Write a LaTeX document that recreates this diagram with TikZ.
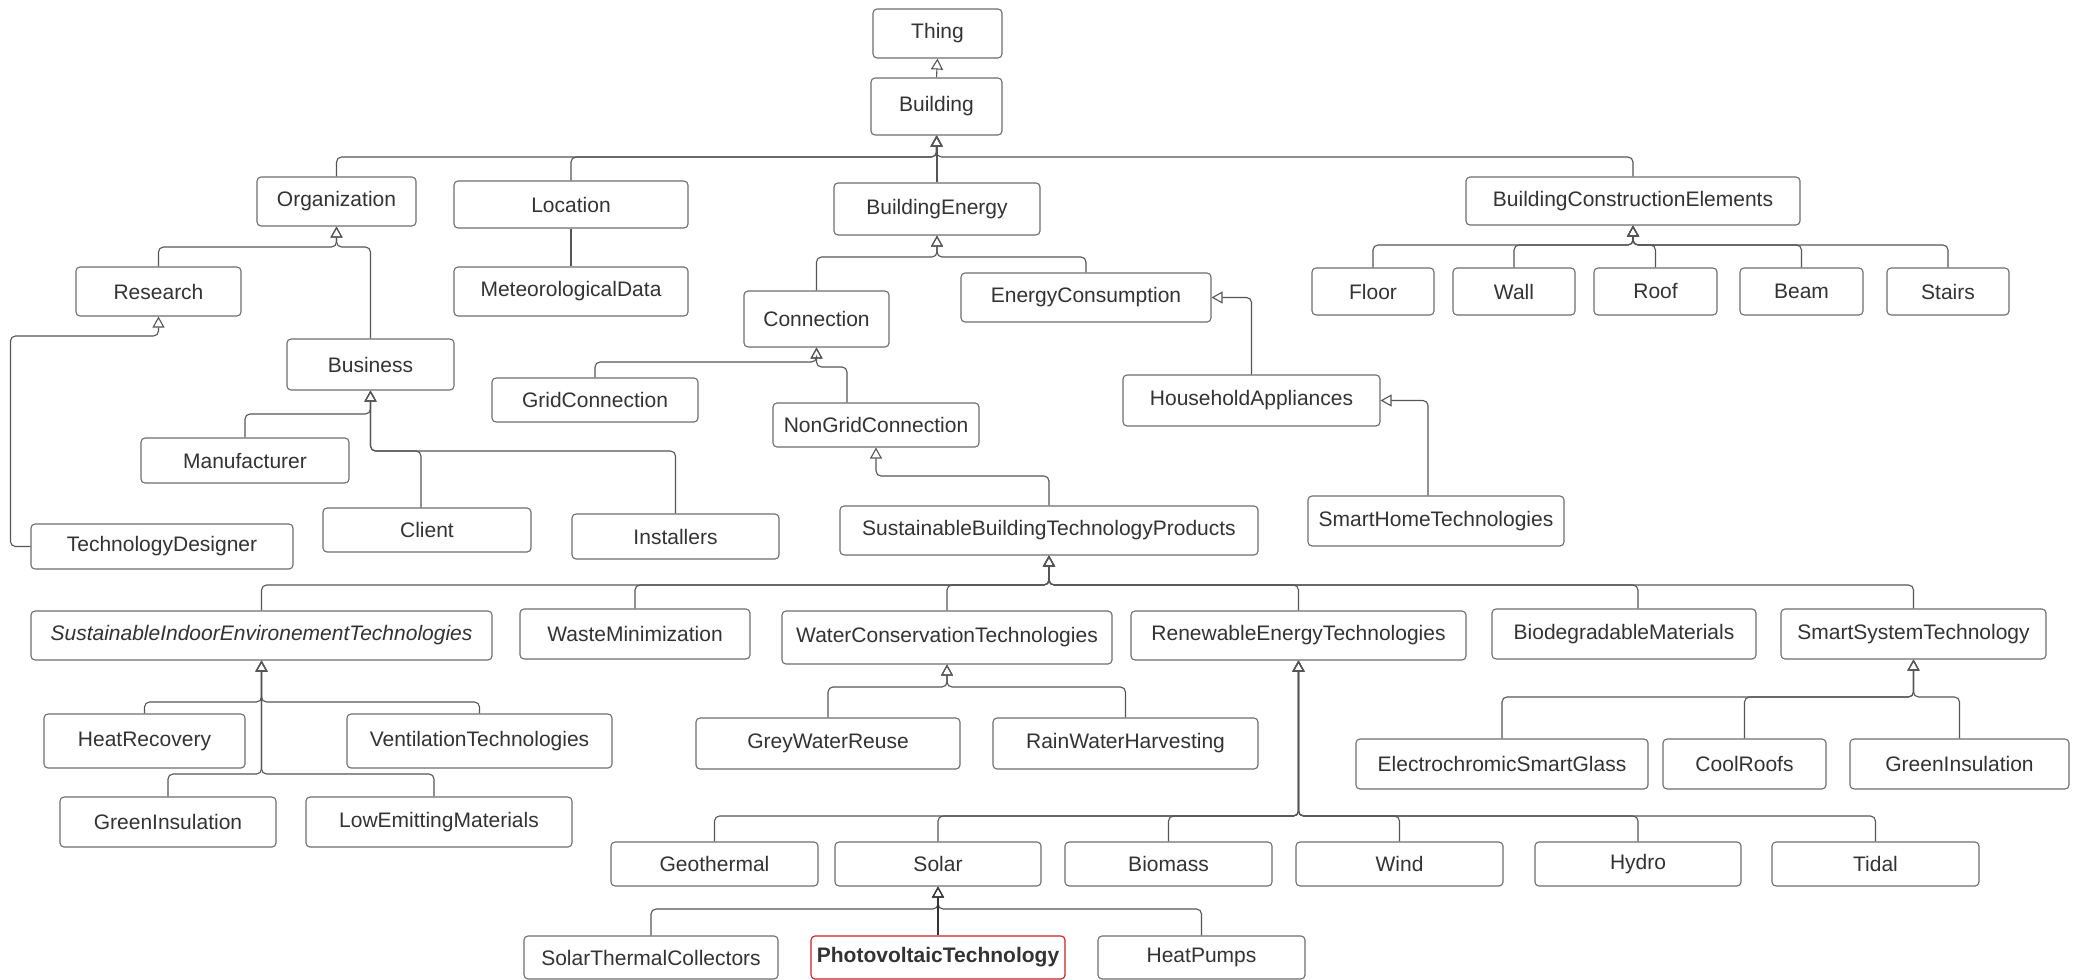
\documentclass[tikz,border=0pt]{standalone}
\usepackage{fontspec}
\setmainfont{Liberation Sans}
\usetikzlibrary{arrows.meta}
\definecolor{txt}{HTML}{333333}
\definecolor{edge}{HTML}{555555}
\definecolor{bord}{HTML}{6E6E6E}
\definecolor{pvred}{HTML}{C8202A}
\newcommand\mkbox[7][]{%
  \pgfmathsetmacro\bxcx{(#3+#4)/2}%
  \pgfmathsetmacro\bxcy{(#5+#6)/2}%
  \pgfmathsetmacro\bxw{#4-#3}%
  \pgfmathsetmacro\bxh{#6-#5}%
  \node[box,minimum width=\bxw pt,minimum height=\bxh pt,#1] (#2) at (\bxcx,\bxcy) {#7};}
\begin{document}
\begin{tikzpicture}[x=1pt,y=-1pt,
  box/.style={draw=bord, line width=1.1pt, rounded corners=4pt, inner sep=0pt, text=txt, font=\fontsize{21}{25}\selectfont},
  gen/.style={draw=edge, line width=1.1pt, rounded corners=5pt, -{Triangle[open,length=11pt,width=12pt,line width=1.1pt]}},
  plain/.style={draw=edge, line width=1.1pt},
  pvline/.style={draw=txt, line width=2.6pt, -{Triangle[open,length=11pt,width=12pt,line width=1.1pt]}},
]
\fill[white] (0,0) rectangle (2081,980);
\useasboundingbox (0,0) rectangle (2081,980);

% nodes: name, x1, x2, y1, y2, text
\mkbox{thing}{873}{1002}{9}{58}{Thing}
\mkbox{building}{871}{1002}{78}{135}{Building}
\mkbox{org}{257}{416}{177}{226}{Organization}
\mkbox{location}{454}{688}{181}{228}{Location}
\mkbox{be}{834}{1040}{183}{235}{BuildingEnergy}
\mkbox{bce}{1466}{1800}{177}{225}{BuildingConstructionElements}
\mkbox{research}{76}{241}{267}{316}{Research}
\mkbox{meteo}{454}{688}{267}{316}{MeteorologicalData}
\mkbox{conn}{744}{889}{291}{347}{Connection}
\mkbox{ec}{961}{1211}{273}{322}{EnergyConsumption}
\mkbox{floor}{1312}{1434}{268}{315}{Floor}
\mkbox{wall}{1453}{1575}{268}{315}{Wall}
\mkbox{roof}{1594}{1717}{268}{315}{Roof}
\mkbox{beam}{1740}{1863}{268}{315}{Beam}
\mkbox{stairs}{1887}{2009}{268}{315}{Stairs}
\mkbox{business}{287}{454}{339}{390}{Business}
\mkbox{grid}{492}{698}{378}{422}{GridConnection}
\mkbox{nongrid}{773}{979}{403}{447}{NonGridConnection}
\mkbox{ha}{1123}{1380}{375}{426}{HouseholdAppliances}
\mkbox{manu}{141}{349}{438}{483}{Manufacturer}
\mkbox{client}{323}{531}{508}{552}{Client}
\mkbox{inst}{572}{779}{514}{559}{Installers}
\mkbox{td}{31}{293}{524}{569}{TechnologyDesigner}
\mkbox{sbtp}{840}{1258}{506}{555}{SustainableBuildingTechnologyProducts}
\mkbox{sh}{1308}{1564}{496}{546}{SmartHomeTechnologies}
\mkbox[font=\fontsize{21}{25}\selectfont\itshape]{siet}{31}{492}{611}{660}{SustainableIndoorEnvironementTechnologies}
\mkbox{waste}{520}{750}{609}{659}{WasteMinimization}
\mkbox{wct}{782}{1112}{611}{664}{WaterConservationTechnologies}
\mkbox{ret}{1131}{1466}{611}{660}{RenewableEnergyTechnologies}
\mkbox{biodeg}{1492}{1756}{609}{659}{BiodegradableMaterials}
\mkbox{sst}{1781}{2046}{609}{659}{SmartSystemTechnology}
\mkbox{hr}{44}{245}{714}{768}{HeatRecovery}
\mkbox{vent}{347}{612}{714}{768}{VentilationTechnologies}
\mkbox{grey}{696}{960}{718}{769}{GreyWaterReuse}
\mkbox{rain}{993}{1258}{718}{769}{RainWaterHarvesting}
\mkbox{electro}{1356}{1648}{739}{789}{ElectrochromicSmartGlass}
\mkbox{cool}{1663}{1826}{739}{789}{CoolRoofs}
\mkbox{gib}{1850}{2069}{739}{789}{GreenInsulation}
\mkbox{gia}{60}{276}{797}{847}{GreenInsulation}
\mkbox{lem}{306}{572}{797}{847}{LowEmittingMaterials}
\mkbox{geo}{611}{818}{842}{886}{Geothermal}
\mkbox{solar}{835}{1041}{842}{886}{Solar}
\mkbox{biomass}{1065}{1272}{842}{886}{Biomass}
\mkbox{wind}{1296}{1503}{842}{886}{Wind}
\mkbox{hydro}{1535}{1741}{842}{886}{Hydro}
\mkbox{tidal}{1772}{1979}{842}{886}{Tidal}
\mkbox{stc}{524}{778}{936}{979}{SolarThermalCollectors}
\mkbox[draw=pvred,font=\fontsize{21}{25}\selectfont\bfseries]{pv}{811}{1065}{936}{979}{PhotovoltaicTechnology}
\mkbox{hp}{1098}{1305}{936}{979}{HeatPumps}

% edges
\draw[gen] (building.north) -- (thing.south);
\draw[gen] (org.north) |- (0,157 -| building.south) -- (building.south);
\draw[gen] (location.north) |- (0,157 -| building.south) -- (building.south);
\draw[gen] (bce.north) |- (0,157 -| building.south) -- (building.south);
\draw[gen] (be.north) -- (be.north |- building.south);

\draw[gen] (research.north) |- (0,247 -| org.south) -- (org.south);
\draw[gen] (business.north) |- (0,247 -| org.south) -- (org.south);
\draw[plain] (location.south) -- (meteo.north);
\draw[gen] (td.west) -- ++(-20,0) |- (0,336 -| research.south) -- (research.south);

\draw[gen] (manu.north) |- (0,414 -| business.south) -- (business.south);
\draw[gen] ([xshift=-6pt]client.north) |- (0,451 -| business.south) -- (business.south);
\draw[gen] (inst.north) |- (0,451 -| business.south) -- (business.south);

\draw[gen] (conn.north) |- (0,257 -| be.south) -- (be.south);
\draw[gen] (ec.north) |- (0,257 -| be.south) -- (be.south);
\draw[gen] (ha.north) |- (ec.east);
\draw[gen] ([xshift=-8pt]sh.north) |- (ha.east);

\draw[gen] (grid.north) |- (0,362 -| conn.south) -- (conn.south);
\draw[gen] ([xshift=-29pt]nongrid.north) |- (0,367 -| conn.south) -- (conn.south);
\draw[gen] (sbtp.north) |- (0,476 -| nongrid.south) -- (nongrid.south);

\foreach \c/\s in {floor/0,wall/0,roof/0,beam/0,stairs/0}
  \draw[gen] ([xshift=\s pt]\c.north) |- (0,245 -| bce.south) -- (bce.south);

\foreach \c/\s in {siet/0,waste/0,wct/0,ret/0,biodeg/14,sst/0}
  \draw[gen] ([xshift=\s pt]\c.north) |- (0,585 -| sbtp.south) -- (sbtp.south);

\draw[gen] (hr.north) |- (0,702 -| siet.south) -- (siet.south);
\draw[gen] (vent.north) |- (0,702 -| siet.south) -- (siet.south);
\draw[gen] (gia.north) |- (0,774 -| siet.south) -- (siet.south);
\draw[gen] ([xshift=-5pt]lem.north) |- (0,774 -| siet.south) -- (siet.south);

\draw[gen] (grey.north) |- (0,687 -| wct.south) -- (wct.south);
\draw[gen] (rain.north) |- (0,687 -| wct.south) -- (wct.south);

\foreach \c in {electro,cool,gib}
  \draw[gen] (\c.north) |- (0,697 -| sst.south) -- (sst.south);

\foreach \c in {geo,solar,biomass,wind,hydro,tidal}
  \draw[gen] (\c.north) |- (0,816 -| ret.south) -- (ret.south);

\draw[gen] (stc.north) |- (0,909 -| solar.south) -- (solar.south);
\draw[gen] (hp.north) |- (0,909 -| solar.south) -- (solar.south);
\draw[pvline] (pv.north) -- (pv.north |- solar.south);
\end{tikzpicture}
\end{document}
